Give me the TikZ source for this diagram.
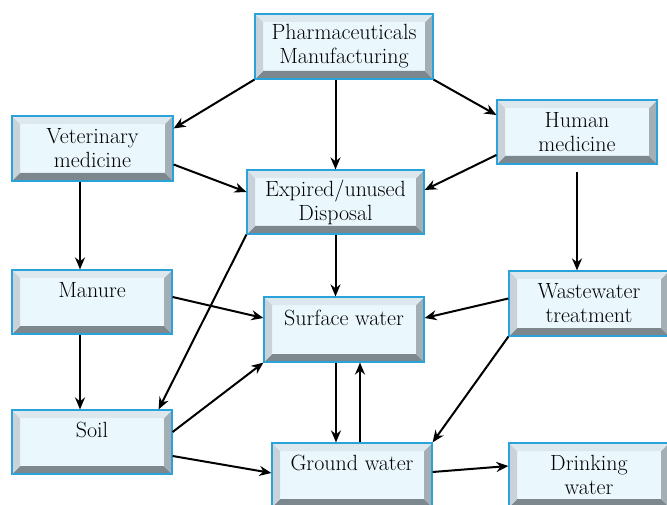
\RequirePackage{fix-cm}
\documentclass[tikz,border=0pt]{standalone}
\usepackage{tikz}
\usetikzlibrary{arrows.meta, positioning, calc}

\definecolor{boxblue}{HTML}{2AA2DA}
\definecolor{boxfill}{HTML}{EAF7FD}
\definecolor{bevdark}{HTML}{7D878E}
\definecolor{bevmid}{HTML}{A4AEB5}
\definecolor{bevlight}{HTML}{C9D2D8}
\definecolor{bevtop}{HTML}{DDE8EE}

\tikzset{
  medbox/.style={draw=boxblue, line width=1.2pt, fill=boxfill,
    minimum width=160pt, minimum height=64pt, inner sep=0pt,
    align=center, font=\fontsize{22}{24}\selectfont,
    path picture={
      \fill[bevdark] (path picture bounding box.south west) -- (path picture bounding box.south east)
        -- ([shift={(-8pt,8pt)}]path picture bounding box.south east) -- ([shift={(8pt,8pt)}]path picture bounding box.south west) -- cycle;
      \fill[bevmid] (path picture bounding box.south east) -- (path picture bounding box.north east)
        -- ([shift={(-8pt,-8pt)}]path picture bounding box.north east) -- ([shift={(-8pt,8pt)}]path picture bounding box.south east) -- cycle;
      \fill[bevlight] (path picture bounding box.south west) -- (path picture bounding box.north west)
        -- ([shift={(8pt,-8pt)}]path picture bounding box.north west) -- ([shift={(8pt,8pt)}]path picture bounding box.south west) -- cycle;
      \fill[bevtop] (path picture bounding box.north west) -- (path picture bounding box.north east)
        -- ([shift={(-8pt,-8pt)}]path picture bounding box.north east) -- ([shift={(8pt,-8pt)}]path picture bounding box.north west) -- cycle;
    }},
  flow/.style={-{Stealth[length=12pt,width=10pt]}, line width=2pt}
}

\begin{document}
\begin{tikzpicture}[x=1pt, y=-1pt]
		\useasboundingbox (0,0) rectangle (667,505);

		% sources
		\node[medbox, minimum width=178pt, minimum height=65pt] (pharma) at (344,46.5) {Pharmaceuticals\\Manufacturing};
		\node[medbox, minimum width=161pt, minimum height=65pt] (vet) at (92.5,148.5) {Veterinary\\medicine};
		\node[medbox] (human) at (577,132) {Human\\medicine};
		\node[medbox, minimum width=177pt] (expired) at (335.5,202) {Expired/unused\\Disposal};

		% environment
		\node[medbox] (manure) at (92,302) {Manure\\~};
		\node[medbox, minimum height=65pt] (surface) at (344,329.5) {Surface water\\~};
		\node[medbox, minimum height=65pt] (waste) at (589,303.5) {Wastewater\\treatment};
		\node[medbox] (soil) at (92,442) {Soil\\~};
		\node[medbox] (ground) at (352,475) {Ground water\\~};
		\node[medbox] (drink) at (589,475) {Drinking\\water};

		% connectors
		\draw[flow] (pharma.south west) -- ([yshift=20pt]vet.east);
		\draw[flow] (expired.north |- pharma.south) -- (expired.north);
		\draw[flow] (pharma.south east) -- ([yshift=17pt]human.west);
		\draw[flow] ([yshift=-16pt]vet.east) -- ([yshift=10pt]expired.west);
		\draw[flow] ([yshift=-23pt]human.west) -- ([yshift=12pt]expired.east);
		\draw[flow] ([xshift=-12pt]manure.north |- vet.south) -- ([xshift=-12pt]manure.north);
		\draw[flow, shorten <=7pt] (human.south) -- (human.south |- waste.north);
		\draw[flow] (expired.south) -- (expired.south |- surface.north);
		\draw[flow] (expired.south west) -- ([xshift=-14pt]soil.north east);
		\draw[flow] ([yshift=5pt]manure.east) -- ([yshift=11.5pt]surface.west);
		\draw[flow] ([yshift=5pt]waste.west) -- ([yshift=11.5pt]surface.east);
		\draw[flow] ([xshift=-12pt]manure.south) -- ([xshift=-12pt]soil.north);
		\draw[flow] ([yshift=10pt]soil.east) -- (surface.south west);
		\draw[flow] ([yshift=-14pt]soil.east) -- ([yshift=2pt]ground.west);
		\draw[flow] ([xshift=-8pt]surface.south) -- ([xshift=-16pt]ground.north);
		\draw[flow] ([xshift=8pt]ground.north) -- ([xshift=16pt]surface.south);
		\draw[flow] (waste.south west) -- (ground.north east);
		\draw[flow] ([yshift=3pt]ground.east) -- ([yshift=9pt]drink.west);
	\end{tikzpicture}
\end{document}
